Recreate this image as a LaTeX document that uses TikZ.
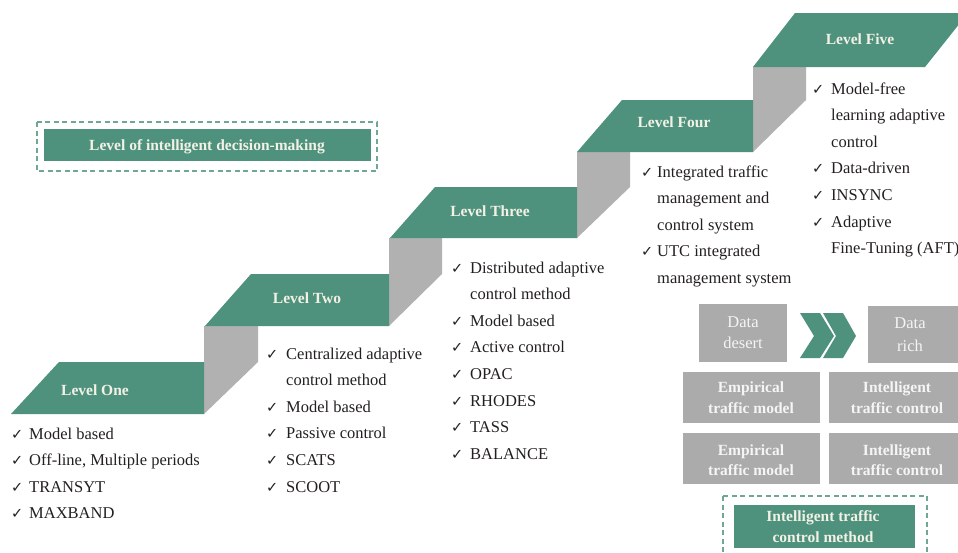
\documentclass[tikz,border=0pt]{standalone}
\usepackage{fontspec}
\setmainfont{Liberation Serif}
\newfontfamily\checkfont{DejaVu Sans}

\definecolor{stepgreen}{RGB}{78,146,126}
\definecolor{risergrey}{RGB}{177,177,177}
\definecolor{boxgrey}{RGB}{171,171,171}
\definecolor{labeltext}{RGB}{243,241,230}
\definecolor{paletext}{RGB}{245,245,245}
\definecolor{ink}{RGB}{35,31,32}
\definecolor{dashgreen}{RGB}{110,168,148}

\tikzset{
  stepfill/.style={fill=stepgreen},
  riser/.style={fill=risergrey},
  steplabel/.style={anchor=base, inner sep=0pt, text=labeltext,
    font=\bfseries\fontsize{15.5}{18}\selectfont},
  item/.style={anchor=base west, inner sep=0pt, text=ink,
    font=\fontsize{16.5}{20}\selectfont},
  tick/.style={anchor=base west, inner sep=0pt, text=ink,
    font=\checkfont\fontsize{14.5}{16}\selectfont},
  greybox/.style={fill=boxgrey},
  boxplain/.style={anchor=base, inner sep=0pt, text=paletext,
    font=\fontsize{16.5}{18}\selectfont},
  boxbold/.style={anchor=base, inner sep=0pt, text=paletext,
    font=\bfseries\fontsize{15.5}{18}\selectfont},
  dashframe/.style={draw=dashgreen, line width=1.1pt, dash pattern=on 5pt off 3.5pt},
}

% checked list: name, tick x, text x, first baseline, entries text/flag
\newcommand\checkeditems[5]{%
  \foreach [count=\n from 0] \txt/\flag in {#5} {
    \pgfmathsetmacro\yy{#4+26.6*\n}
    \node[item] (#1-\n) at (#3,\yy) {\txt};
    \ifnum\flag=1 \node[tick] (#1-t\n) at (#2,\yy) {✓};\fi
  }}

\begin{document}
\begin{tikzpicture}[x=1pt,y=-1pt]
\useasboundingbox (0,0) rectangle (958,552);
\clip (0,0) rectangle (958,552);

% risers between the steps
\fill[riser] (204,326) -- (258,326) -- (258,362) -- (204,414) -- cycle;
\fill[riser] (389,238) -- (442,238) -- (442,274) -- (389,326) -- cycle;
\fill[riser] (577,152) -- (630,152) -- (630,187) -- (577,238) -- cycle;
\fill[riser] (753,67) -- (806,67) -- (806,100) -- (753,152) -- cycle;

% treads
\fill[stepfill] (11,414) -- (59,362) -- (204,362) -- (204,414) -- cycle;
\fill[stepfill] (205,326) -- (251,274) -- (389,274) -- (389,326) -- cycle;
\fill[stepfill] (390,238) -- (435,187) -- (577,187) -- (577,238) -- cycle;
\fill[stepfill] (577,152) -- (622,100) -- (753,100) -- (753,152) -- cycle;
\fill[stepfill] (753,67) -- (795,13) -- (968,13) -- (925,67) -- cycle;

\node[steplabel] (lv1) at (95,395) {Level One};
\node[steplabel] (lv2) at (307,303) {Level Two};
\node[steplabel] (lv3) at (490,216) {Level Three};
\node[steplabel] (lv4) at (674,127) {Level Four};
\node[steplabel] (lv5) at (860,44) {Level Five};

% legend box, upper left
\draw[dashframe] (37,122) rectangle (377,171);
\fill[stepgreen] (44,129) rectangle (371,161);
\node[steplabel] (dm) at (207,150) {Level of intelligent decision-making};

% lists under each level
\checkeditems{one}{11}{29}{439}{Model based/1, {Off-line, Multiple periods}/1, TRANSYT/1, MAXBAND/1}
\checkeditems{two}{266}{286}{359}{Centralized adaptive/1, control method/0, Model based/1, Passive control/1, SCATS/1, SCOOT/1}
\checkeditems{three}{451}{470}{273}{Distributed adaptive/1, control method/0, Model based/1, Active control/1, OPAC/1, RHODES/1, TASS/1, BALANCE/1}
\checkeditems{four}{641}{657}{177}{Integrated traffic/1, management and/0, control system/0, UTC integrated/1, management system/0}
\checkeditems{five}{812}{831}{94}{Model-free/1, learning adaptive/0, control/0, Data-driven/1, INSYNC/1, Adaptive/1, Fine-Tuning (AFT)/0}

% data desert -> data rich
\fill[greybox] (699,304) rectangle (787,362);
\fill[greybox] (868,306) rectangle (960,363);
\node[boxplain] (dd1) at (743,327) {Data};
\node[boxplain] (dd2) at (743,348) {desert};
\node[boxplain] (dr1) at (910,328) {Data};
\node[boxplain] (dr2) at (910,351) {rich};
\fill[stepgreen] (800,313) -- (820,313) -- (834,336) -- (820,358) -- (800,358) -- (814,336) -- cycle;
\fill[stepgreen] (823,313) -- (843,313) -- (856,336) -- (843,358) -- (823,358) -- (836,336) -- cycle;

\fill[greybox] (683,372) rectangle (820,423);
\fill[greybox] (829,372) rectangle (960,423);
\fill[greybox] (683,433) rectangle (820,484);
\fill[greybox] (829,433) rectangle (960,484);
\node[boxbold] (e1a) at (751,392) {Empirical};
\node[boxbold] (e1b) at (751,413) {traffic model};
\node[boxbold] (i1a) at (897,392) {Intelligent};
\node[boxbold] (i1b) at (897,413) {traffic control};
\node[boxbold] (e2a) at (751,455) {Empirical};
\node[boxbold] (e2b) at (751,475) {traffic model};
\node[boxbold] (i2a) at (897,455) {Intelligent};
\node[boxbold] (i2b) at (897,475) {traffic control};

% method box, lower right
\draw[dashframe] (723,496) rectangle (927,575);
\fill[stepgreen] (734,505) rectangle (915,548);
\node[steplabel] (m1) at (823,521) {Intelligent traffic};
\node[steplabel] (m2) at (823,542) {control method};
\end{tikzpicture}
\end{document}
